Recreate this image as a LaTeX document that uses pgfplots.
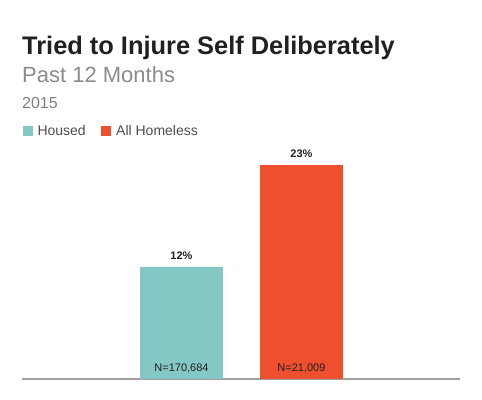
\documentclass[border=0pt]{standalone}
\usepackage{pgfplots}
\pgfplotsset{compat=1.18}
\usepackage{fontspec}
\setmainfont{Liberation Sans}
\definecolor{housed}{HTML}{84C8C6}
\definecolor{homeless}{HTML}{EE4F2E}
\definecolor{titlec}{HTML}{231F20}
\definecolor{subc}{HTML}{8A8B8D}
\definecolor{yearc}{HTML}{7E8083}
\definecolor{legc}{HTML}{4D4D4F}
\definecolor{axc}{HTML}{A0A0A0}
\begin{document}
\begin{tikzpicture}
\useasboundingbox (0,0) rectangle (482pt,399pt);
\node[anchor=base west, inner sep=0pt, text=titlec, font=\fontsize{25.4}{30}\selectfont\bfseries] at (22pt,344pt) {Tried to Injure Self Deliberately};
\node[anchor=base west, inner sep=0pt, text=subc, font=\fontsize{22}{26}\selectfont] at (22pt,316.7pt) {Past 12 Months};
\node[anchor=base west, inner sep=0pt, text=yearc, font=\fontsize{16}{19}\selectfont] at (22pt,290pt) {2015};
\fill[housed] (23pt,263.3pt) rectangle (33pt,273.3pt);
\node[anchor=base west, inner sep=0pt, text=legc, font=\fontsize{14}{17}\selectfont] at (37.3pt,263.3pt) {Housed};
\fill[homeless] (101pt,263.3pt) rectangle (111pt,273.3pt);
\node[anchor=base west, inner sep=0pt, text=legc, font=\fontsize{14}{17}\selectfont] at (116pt,263.3pt) {All Homeless};
\begin{axis}[
  at={(22pt,20pt)}, anchor=south west,
  scale only axis, width=438pt, height=232.5pt,
  xmin=-1.329, xmax=2.321, ymin=0, ymax=25,
  hide y axis,
  axis x line=bottom,
  x axis line style={-, draw=axc, line width=1.5pt},
  xtick=\empty, ytick=\empty,
  clip=false,
  /pgf/number format/assume math mode=true,
  nodes near coords={\pgfmathprintnumber{\pgfplotspointmeta}\%},
  every node near coord/.append style={font=\fontsize{11}{13}\selectfont\bfseries, text=titlec, inner sep=0pt, anchor=base, yshift=8pt},
]
\addplot[ybar, bar width=83pt, bar shift=0pt, fill=housed, draw=none] coordinates {(0,12)};
\addplot[ybar, bar width=83pt, bar shift=0pt, fill=homeless, draw=none] coordinates {(1,23)};
\node[anchor=base, inner sep=0pt, text=titlec, font=\fontsize{11}{13}\selectfont] at (axis cs:0,0) [yshift=7.3pt] {N=170,684};
\node[anchor=base, inner sep=0pt, text=titlec, font=\fontsize{11}{13}\selectfont] at (axis cs:1,0) [yshift=7.3pt] {N=21,009};
\end{axis}
\end{tikzpicture}
\end{document}
